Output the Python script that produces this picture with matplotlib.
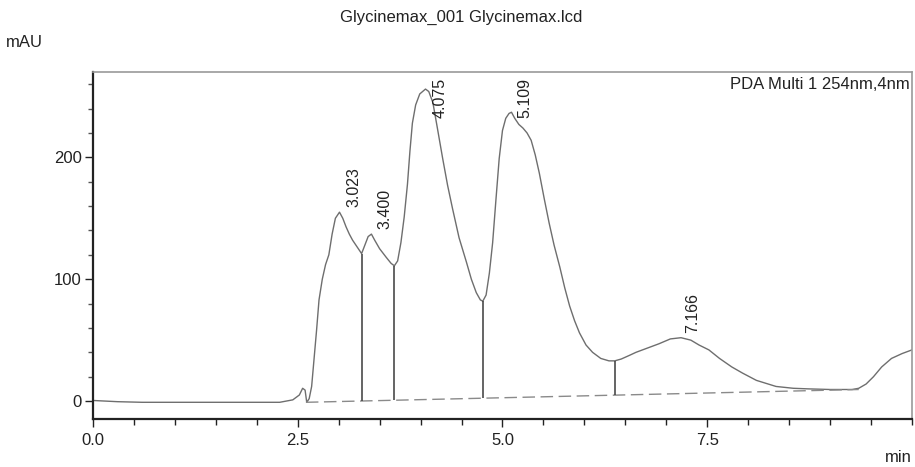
import numpy as np
import matplotlib.pyplot as plt
from matplotlib.ticker import MultipleLocator, FixedLocator, FixedFormatter

plt.rcParams['font.family'] = ['Liberation Sans', 'DejaVu Sans']

# chromatogram trace (min, mAU)
trace_t = [0.0, 0.3, 0.6, 1.0, 1.5, 2.0, 2.28, 2.44, 2.52, 2.56, 2.59, 2.61, 2.64,
           2.67, 2.70, 2.73, 2.76, 2.80, 2.84, 2.88, 2.92, 2.96, 3.01, 3.05, 3.09,
           3.13, 3.17, 3.22, 3.28, 3.32, 3.36, 3.40, 3.44, 3.50, 3.58, 3.64, 3.68,
           3.72, 3.76, 3.80, 3.84, 3.87, 3.90, 3.94, 3.99, 4.06, 4.10, 4.15, 4.20,
           4.27, 4.33, 4.39, 4.47, 4.56, 4.62, 4.68, 4.73, 4.76, 4.80, 4.84, 4.88,
           4.92, 4.96, 5.00, 5.04, 5.08, 5.11, 5.15, 5.20, 5.25, 5.30, 5.35, 5.40,
           5.45, 5.51, 5.57, 5.63, 5.70, 5.76, 5.82, 5.88, 5.94, 6.02, 6.10, 6.20,
           6.30, 6.37, 6.45, 6.55, 6.63, 6.75, 6.91, 7.05, 7.18, 7.30, 7.40, 7.52,
           7.65, 7.80, 7.93, 8.10, 8.34, 8.55, 8.74, 9.00, 9.27, 9.35, 9.44, 9.53,
           9.63, 9.75, 9.88, 10.0]
trace_v = [0.5, -0.5, -1.0, -1.0, -1.0, -1.0, -1.0, 1.0, 5.0, 10.5, 9.0, -1.0, 2.0,
           12.0, 35.0, 58.0, 83.0, 100.0, 112.0, 120.0, 137.0, 150.0, 155.0, 150.0, 143.0,
           137.0, 132.0, 127.0, 121.0, 128.0, 135.0, 137.0, 132.0, 125.0, 118.0, 113.0, 111.0,
           115.0, 130.0, 151.0, 178.0, 205.0, 228.0, 243.0, 252.0, 256.0, 254.0, 245.0, 226.0,
           199.0, 177.0, 158.0, 134.0, 114.0, 100.0, 89.0, 83.0, 82.0, 87.0, 105.0, 130.0,
           165.0, 199.0, 222.0, 232.0, 236.0, 237.0, 232.0, 227.0, 224.0, 220.0, 214.0, 202.0,
           187.0, 166.0, 146.0, 128.0, 110.0, 93.0, 78.0, 66.0, 56.0, 46.0, 40.0, 35.0,
           33.0, 33.0, 34.5, 37.5, 40.0, 43.0, 47.0, 51.0, 52.0, 50.0, 46.0, 42.0,
           35.0, 28.0, 23.0, 17.0, 12.0, 10.5, 10.0, 9.5, 9.5, 10.5, 14.0, 20.0,
           28.0, 35.0, 39.0, 42.0]

# integration baseline
base_t = [2.6, 9.35]
base_v = [-1.0, 9.5]

# drop lines between peaks
drop_t = [3.28, 3.68, 4.76, 6.37]
drop_top = [121.0, 111.0, 82.0, 33.0]

# peak labels
peak_t = [3.023, 3.400, 4.075, 5.109, 7.166]
peak_v = [155.0, 137.0, 256.0, 237.0, 52.0]
peak_labels = ["3.023", "3.400", "4.075", "5.109", "7.166"]

fig = plt.figure(figsize=(9.15, 4.67), dpi=100)
ax = fig.add_axes([0.1016, 0.1028, 0.8951, 0.743])

ax.plot(trace_t, trace_v, color='#6e6e6e', lw=1.0)
ax.plot(base_t, base_v, color='#8a8a8a', lw=1.0, dashes=(9, 4))
drop_bottom = np.interp(drop_t, base_t, base_v)
ax.vlines(drop_t, drop_bottom, drop_top, color='#3a3a3a', lw=1.1)

for t, v, lab in zip(peak_t, peak_v, peak_labels):
    y = min(v + 4, 232)
    ax.annotate(lab, xy=(t, y), xytext=(4, 0), textcoords='offset points',
                rotation=90, ha='left', va='bottom', fontsize=11.5, color='#222222')

ax.set_xlim(0, 10)
ax.set_ylim(-14.7, 270)

ax.xaxis.set_major_locator(FixedLocator([0, 2.5, 5.0, 7.5]))
ax.xaxis.set_major_formatter(FixedFormatter(["0.0", "2.5", "5.0", "7.5"]))
ax.xaxis.set_minor_locator(MultipleLocator(0.5))
ax.yaxis.set_major_locator(MultipleLocator(100))
ax.yaxis.set_minor_locator(MultipleLocator(20))

ax.tick_params(axis='x', which='major', length=6, width=1, labelsize=12, pad=4, color='#222222')
ax.tick_params(axis='x', which='minor', length=4, width=1, color='#222222')
ax.tick_params(axis='y', which='major', length=6, width=1, labelsize=12, pad=2, color='#222222')
ax.tick_params(axis='y', which='minor', length=3.5, width=1, color='#555555')
ax.tick_params(labelcolor='#222222')

for side in ['left', 'bottom']:
    ax.spines[side].set_color('#222222')
    ax.spines[side].set_linewidth(1.6)
for side in ['top', 'right']:
    ax.spines[side].set_color('#9a9a9a')
    ax.spines[side].set_linewidth(1.2)

ax.text(0.997, 0.985, "PDA Multi 1 254nm,4nm", transform=ax.transAxes,
        ha='right', va='top', fontsize=12, color='#222222')
fig.text(0.504, 0.962, "Glycinemax_001 Glycinemax.lcd", ha='center', va='center',
         fontsize=12, color='#222222')
fig.text(0.007, 0.908, "mAU", ha='left', va='center', fontsize=12, color='#222222')
fig.text(0.996, 0.02, "min", ha='right', va='center', fontsize=12, color='#222222')

fig.savefig("out.png", dpi=100)
